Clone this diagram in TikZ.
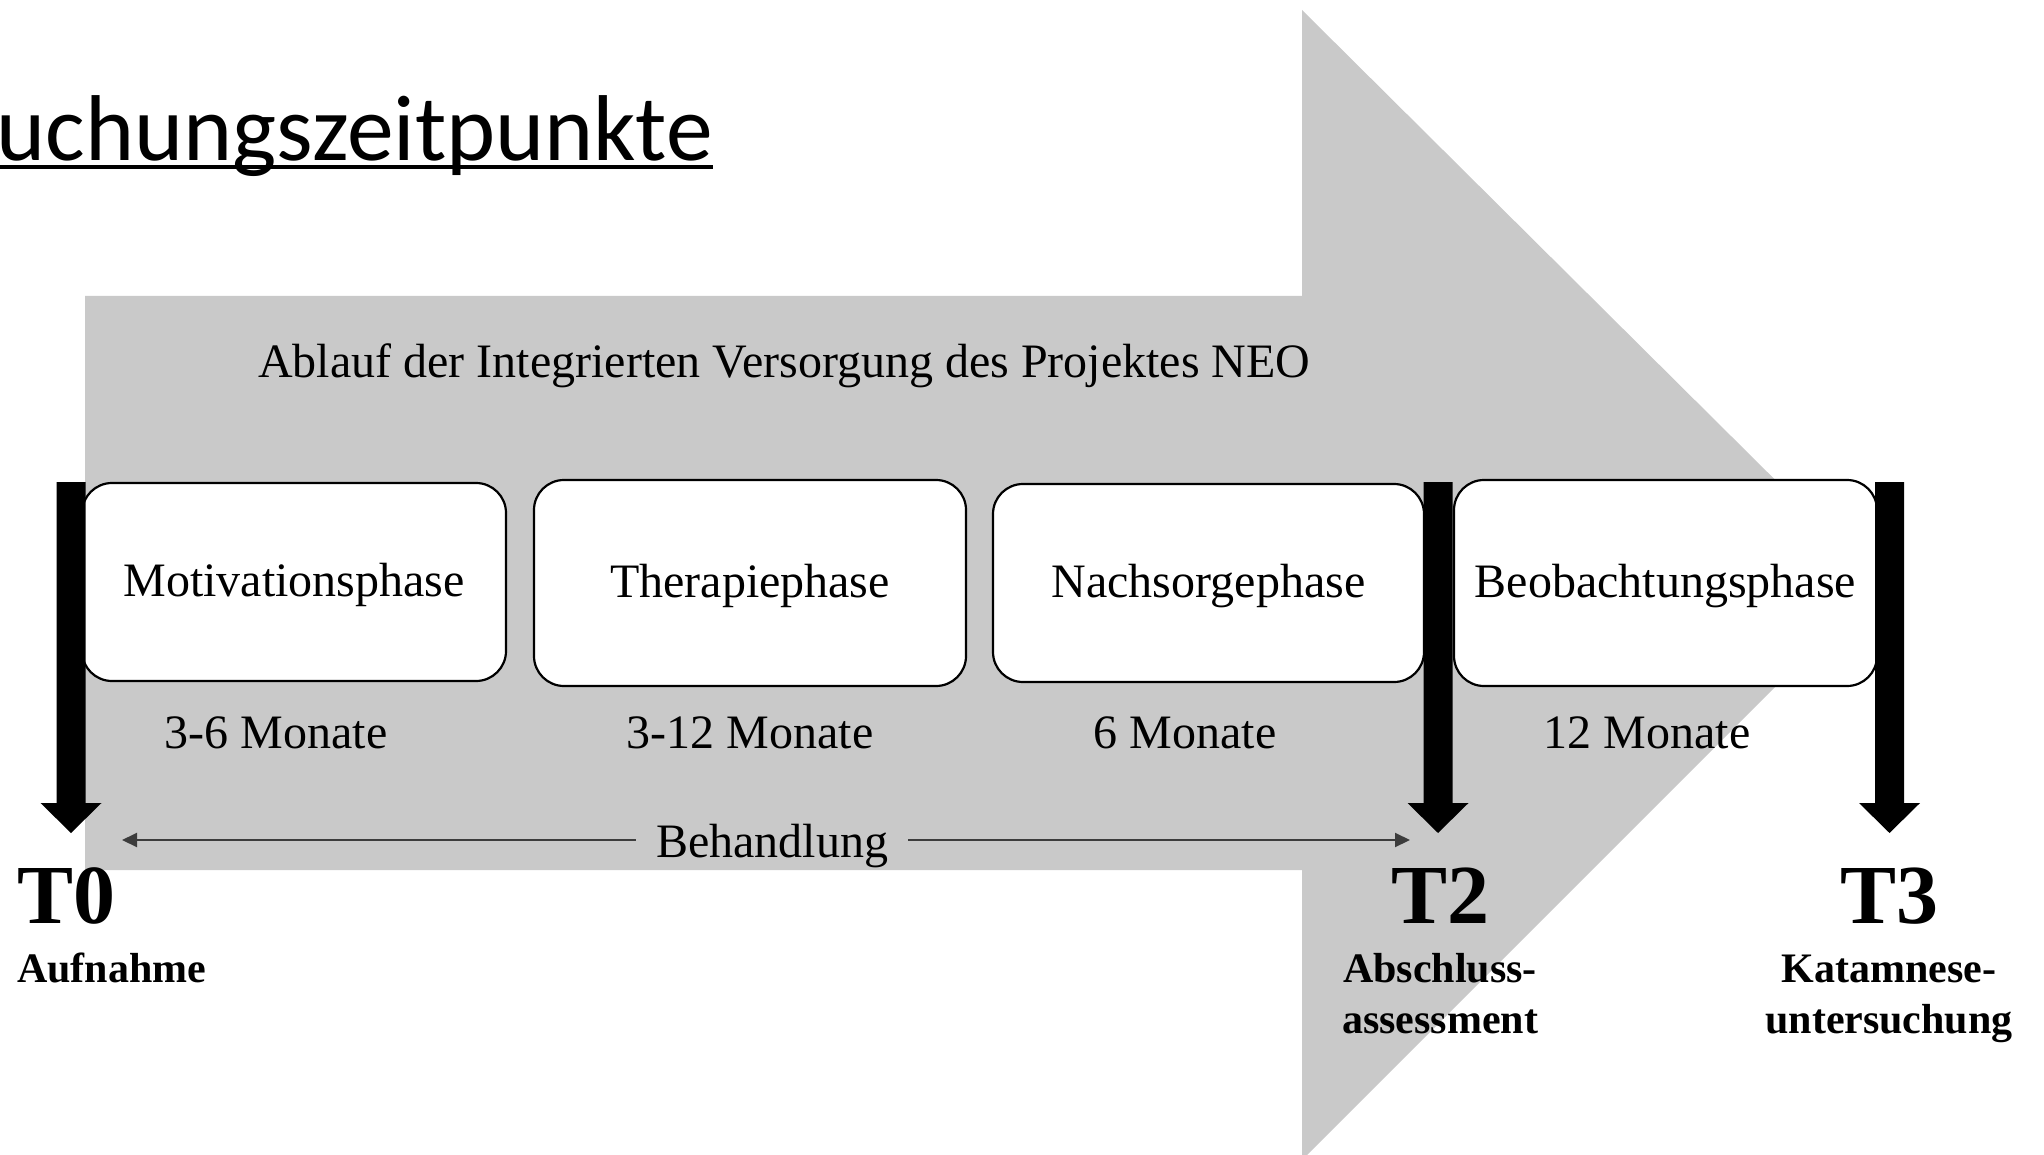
\documentclass[tikz,border=0pt]{standalone}
\usepackage{fontspec}
\setmainfont{Liberation Serif}
\newfontfamily\titlefont{Carlito}
\usetikzlibrary{arrows.meta,calc}
\definecolor{arrowgray}{RGB}{201,201,201}
\definecolor{linegray}{RGB}{60,60,60}
\newcommand{\thickdown}[2]{%
  \fill ({#1-14.5},#2) -- ({#1+14.5},#2) -- ({#1+14.5},803) -- ({#1+30.5},803)
        -- (#1,833) -- ({#1-30.5},803) -- ({#1-14.5},803) -- cycle;}
\begin{document}
\begin{tikzpicture}[x=1pt,y=-1pt,
  phasebox/.style={draw=black,line width=2.2pt,fill=white,rounded corners=30pt,
    font=\fontsize{48}{56}\selectfont,text height=34pt,text depth=6pt,inner sep=0pt},
  txt/.style={font=\fontsize{48}{56}\selectfont,inner sep=0pt,anchor=base},
  tbig/.style={font=\bfseries\fontsize{84}{90}\selectfont,inner sep=0pt,anchor=base},
  tsub/.style={font=\bfseries\fontsize{42}{50}\selectfont,inner sep=0pt,anchor=base}]
\useasboundingbox (0,0) rectangle (2044,1155);
% big grey arrow
\begin{scope}
\clip (0,0) rectangle (2044,1155);
\fill[arrowgray] (85,296) -- (1302,296) -- (1302,10) -- (1879,583) -- (1302,1160)
  -- (1302,870) -- (85,870) -- cycle;
\end{scope}
% title
\node[anchor=base east,inner sep=0pt,font=\titlefont\fontsize{93.5}{100}\selectfont] (title) at (713,161) {uchungszeitpunkte};
\draw[line width=3.5pt] ([yshift=-6pt]title.base west) -- ([yshift=-6pt]title.base east);
\node[txt,anchor=base west] (ablauf) at (258,377) {Ablauf der Integrierten Versorgung des Projektes NEO};
% phase boxes
\node[phasebox,minimum width=424pt,minimum height=198pt] (b1) at (294,582) {Motivationsphase};
\node[phasebox,minimum width=432pt,minimum height=206pt] (b2) at (750,583) {Therapiephase};
\node[phasebox,minimum width=431pt,minimum height=198pt] (b3) at (1208.5,583) {Nachsorgephase};
\node[phasebox,minimum width=423pt,minimum height=206pt] (b4) at (1665.5,583) {Beobachtungsphase};
% durations
\node[txt] (d1) at (276,748) {3-6 Monate};
\node[txt] (d2) at (750,748) {3-12 Monate};
\node[txt] (d3) at (1185,748) {6 Monate};
\node[txt] (d4) at (1647,748) {12 Monate};
% thick time-point arrows
\coordinate (t0top) at (71,482);
\coordinate (t2top) at (1438,482);
\coordinate (t3top) at (1889.5,482);
\thickdown{71}{482}
\thickdown{1438}{482}
\thickdown{1889.5}{482}
% Behandlung
\node[font=\fontsize{48}{56}\selectfont,inner ysep=0pt,inner xsep=20pt,text height=36pt,text depth=2pt,anchor=base] (beh) at (772,857) {Behandlung};
\coordinate (behL) at (122,840);
\coordinate (behR) at (1410,840);
\draw[linegray,line width=2pt,-{Triangle[length=15pt,width=14pt]}] (beh.west) -- (behL);
\draw[linegray,line width=2pt,-{Triangle[length=15pt,width=14pt]}] (beh.east) -- (behR);
% time points
\node[tbig,anchor=base west] (t0) at (17,923) {T0};
\node[tsub,anchor=base west] (t0a) at (17,982) {Aufnahme};
\node[tbig] (t2) at (1440,923) {T2};
\node[tsub] (t2a) at (1440,982) {Abschluss-};
\node[tsub] (t2b) at (1440,1033) {assessment};
\node[tbig] (t3) at (1889,923) {T3};
\node[tsub] (t3a) at (1889,982) {Katamnese-};
\node[tsub] (t3b) at (1889,1033) {untersuchung};
\end{tikzpicture}
\end{document}
